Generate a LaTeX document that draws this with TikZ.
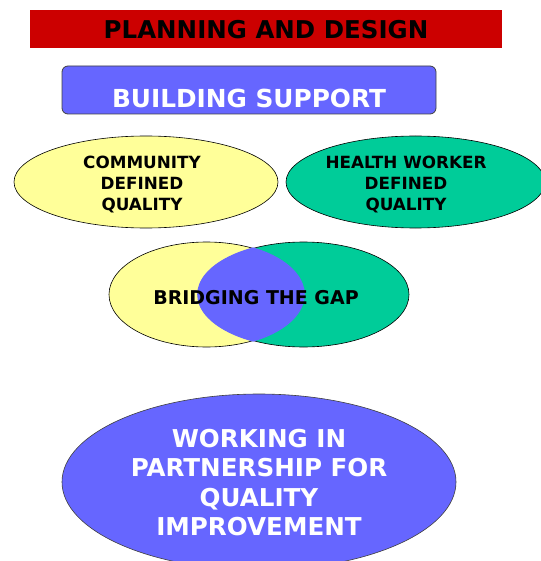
\documentclass[tikz,border=0pt]{standalone}
\usepackage{fontspec}
\setmainfont{DejaVu Sans}
\usetikzlibrary{shapes.geometric}
\definecolor{dred}{HTML}{CC0000}
\definecolor{blu}{HTML}{6666FF}
\definecolor{yel}{HTML}{FFFF99}
\definecolor{grn}{HTML}{00CC99}
\definecolor{edge}{HTML}{404040}
\begin{document}
\begin{tikzpicture}[x=1pt,y=-1pt,
  lbl/.style={font=\bfseries\fontsize{16.8}{21}\selectfont, align=center},
  oval/.style={ellipse, draw=black, line width=0.6pt, inner sep=0pt}]
\useasboundingbox (0,0) rectangle (540,561);
% title banner
\node[fill=dred, minimum width=472pt, minimum height=38pt, inner sep=0pt] (title) at (266,29) {};
\node[font=\bfseries\fontsize{24.5}{28}\selectfont] (titletxt) at (266,30) {PLANNING AND DESIGN};
% building support
\node[fill=blu, draw=edge, line width=0.8pt, rounded corners=6pt, minimum width=374pt,
      minimum height=48pt, inner sep=0pt] (build) at (249,90) {};
\node[text=white, font=\bfseries\fontsize{24.8}{28}\selectfont] (buildtxt) at (249,98) {BUILDING SUPPORT};
% top ellipses
\node[oval, fill=yel, minimum width=264pt, minimum height=92pt] (comm) at (146,182) {};
\node[lbl] (commtxt) at (142,184) {COMMUNITY\\DEFINED\\QUALITY};
\node[oval, fill=grn, minimum width=259pt, minimum height=92pt] (hw) at (415.5,182) {};
\node[lbl] (hwtxt) at (406,184) {HEALTH WORKER\\DEFINED\\QUALITY};
% bridging the gap
\node[oval, fill=yel, minimum width=195pt, minimum height=105pt] (by) at (206.5,294.5) {};
\node[oval, fill=grn, minimum width=211pt, minimum height=105pt] (bg) at (303.5,294.5) {};
\begin{scope}
  \clip (206.5,294.5) ellipse [x radius=98.3pt, y radius=53.5pt];
  \fill[blu] (303.5,294.5) ellipse [x radius=106.3pt, y radius=53.5pt];
\end{scope}
\node[font=\bfseries\fontsize{19}{21}\selectfont] (gap) at (256,298) {BRIDGING THE GAP};
% bottom ellipse
\node[ellipse, fill=blu, draw=edge, line width=0.6pt, inner sep=0pt, minimum width=394pt,
      minimum height=176pt] (work) at (259,482) {};
\node[text=white, align=center, font=\bfseries\fontsize{24.6}{29.5}\selectfont] (worktxt) at (259,482.5)
  {WORKING IN\\PARTNERSHIP FOR\\QUALITY\\IMPROVEMENT};
\end{tikzpicture}
\end{document}
